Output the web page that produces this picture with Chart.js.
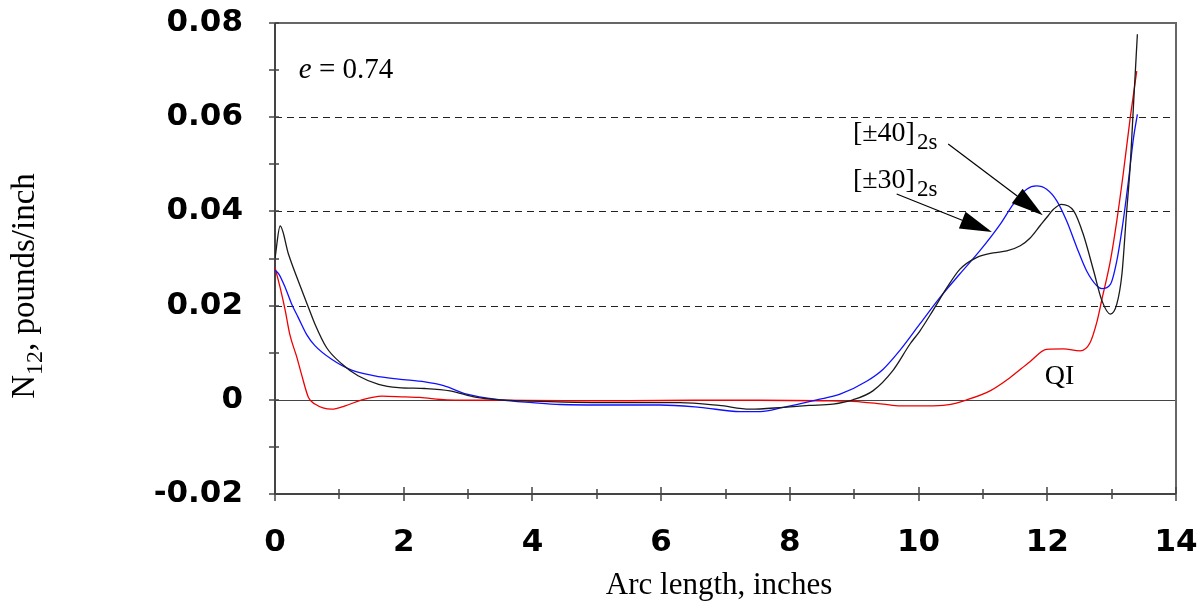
<!DOCTYPE html>
<html>
<head>
<meta charset="utf-8">
<script src="https://cdn.jsdelivr.net/npm/chart.js@4.4.1/dist/chart.umd.min.js"></script>
<style>
  html, body { margin: 0; padding: 0; background: #fff; }
</style>
</head>
<body>
<canvas id="myChart" width="1201" height="609"></canvas>
<script>
"use strict"

// Werte (Bogenlaenge in inch, N12 in pounds/inch)
const xTicks = [0, 2, 4, 6, 8, 10, 12, 14]
const yTickLabels = ['-0.02', '0', '0.02', '0.04', '0.06', '0.08']

// [±30]2s  (schwarz)
const arc30 = [0, 0.08, 0.21, 0.39, 0.52, 0.62, 0.80, 1.04, 1.29, 1.61, 1.92, 2.33, 2.72, 3.13, 3.5, 4.0, 4.5, 5.05, 5.7, 6.29, 6.9, 7.38, 7.9, 8.3, 8.67, 8.98, 9.29, 9.6, 9.87, 10.02, 10.22, 10.44, 10.64, 10.9, 11.16, 11.37, 11.58, 11.73, 11.89, 11.99, 12.1, 12.22, 12.41, 12.56, 12.72, 12.85, 12.98, 13.08, 13.16, 13.23, 13.29, 13.34, 13.4]
const n30 = [0.030, 0.0369, 0.0309, 0.0242, 0.0196, 0.0161, 0.0111, 0.0076, 0.0051, 0.0033, 0.0026, 0.0024, 0.0019, 0.0005, 0.0, -0.0003, -0.0005, -0.0006, -0.0006, -0.0006, -0.0012, -0.002, -0.0016, -0.0012, -0.0009, 0.0, 0.0019, 0.0062, 0.0119, 0.0146, 0.0189, 0.0238, 0.0277, 0.0302, 0.0312, 0.0316, 0.0327, 0.0343, 0.0370, 0.0387, 0.0405, 0.0415, 0.0401, 0.0351, 0.0274, 0.021, 0.0182, 0.0203, 0.0267, 0.0394, 0.05, 0.0627, 0.0776]

// [±40]2s  (blau)
const arc40 = [0, 0.06, 0.16, 0.26, 0.36, 0.49, 0.62, 0.88, 1.19, 1.55, 1.92, 2.33, 2.62, 2.98, 3.5, 4.0, 4.43, 5.2, 5.98, 6.6, 7.23, 7.54, 7.9, 8.42, 8.78, 9.2, 9.45, 9.71, 10.02, 10.33, 10.64, 10.95, 11.27, 11.47, 11.68, 11.83, 11.99, 12.15, 12.3, 12.46, 12.61, 12.77, 12.85, 12.98, 13.08, 13.18, 13.26, 13.34, 13.4]
const n40 = [0.0275, 0.0267, 0.0238, 0.0203, 0.0175, 0.0139, 0.0115, 0.0086, 0.0063, 0.0051, 0.0044, 0.0038, 0.0030, 0.0012, 0.0, -0.0006, -0.001, -0.0011, -0.0011, -0.0016, -0.0025, -0.0025, -0.0016, 0.0, 0.0012, 0.0040, 0.0065, 0.0105, 0.0161, 0.0217, 0.0267, 0.0316, 0.0373, 0.0415, 0.0447, 0.0454, 0.0447, 0.0422, 0.038, 0.0323, 0.0274, 0.0242, 0.0236, 0.0245, 0.0295, 0.038, 0.0464, 0.0556, 0.0606]

// QI  (rot)
const arcQI = [0, 0.08, 0.16, 0.23, 0.34, 0.41, 0.52, 0.62, 0.88, 1.09, 1.35, 1.66, 2.02, 2.25, 2.67, 3.5, 4.5, 5.5, 6.5, 7.5, 8.5, 8.93, 9.2, 9.45, 9.71, 10.13, 10.44, 10.75, 11.11, 11.42, 11.73, 11.99, 12.25, 12.51, 12.66, 12.77, 12.85, 12.98, 13.08, 13.18, 13.29, 13.39]
const nQI = [0.0281, 0.0238, 0.0189, 0.0139, 0.009, 0.0055, 0.0005, -0.0009, -0.002, -0.0013, 0.0, 0.0008, 0.0006, 0.0005, 0.0, -0.0001, -0.0002, -0.0002, -0.0001, -0.0001, -0.0002, -0.0003, -0.0006, -0.0009, -0.0013, -0.0013, -0.0011, 0.0, 0.0019, 0.0047, 0.0081, 0.0107, 0.0108, 0.0104, 0.012, 0.0165, 0.0214, 0.0295, 0.038, 0.048, 0.060, 0.0698]

// Beschriftungen im Diagramm (Ankerpunkte in Datenkoordinaten)
const notes = {
    ecc: { x: 0.37, y: 0.0683, text: '0.74' },
    lab40: { x: 8.98, y: 0.0549, text: '[±40]', sub: '2s' },
    lab30: { x: 8.98, y: 0.0450, text: '[±30]', sub: '2s' },
    qi: { x: 11.96, y: 0.0034, text: 'QI' },
    arrow40: { x1: 10.46, y1: 0.0543, x2: 11.93, y2: 0.0392 },
    arrow30: { x1: 9.66, y1: 0.0437, x2: 11.14, y2: 0.0356 }
}

function toPoints(xs, ys) {
    return xs.map((x, i) => ({ x: x, y: ys[i] }))
}

function subText(ctx, x, y, main, sub, size, subSize, drop) {
    ctx.font = size + 'px "Liberation Serif", "Times New Roman", serif'
    ctx.fillText(main, x, y)
    const w = ctx.measureText(main).width
    ctx.font = subSize + 'px "Liberation Serif", "Times New Roman", serif'
    ctx.fillText(sub, x + w + 2, y + drop)
}

function arrow(ctx, x1, y1, x2, y2) {
    const ang = Math.atan2(y2 - y1, x2 - x1)
    const len = 32, half = 9
    const bx = x2 - len * Math.cos(ang), by = y2 - len * Math.sin(ang)
    ctx.beginPath()
    ctx.moveTo(x1, y1)
    ctx.lineTo(bx, by)
    ctx.stroke()
    ctx.beginPath()
    ctx.moveTo(x2, y2)
    ctx.lineTo(bx + half * Math.sin(ang), by - half * Math.cos(ang))
    ctx.lineTo(bx - half * Math.sin(ang), by + half * Math.cos(ang))
    ctx.closePath()
    ctx.fill()
}

// Rahmen, Gitter und Striche selbst zeichnen
const framePlugin = {
    id: 'framePlugin',
    beforeDatasetsDraw(chart) {
        const { ctx, chartArea: a, scales: { x, y } } = chart
        ctx.save()
        ctx.lineWidth = 1
        ctx.strokeStyle = '#222'
        ctx.setLineDash([7, 5])
        for (const v of [0.02, 0.04, 0.06]) {
            const py = Math.round(y.getPixelForValue(v)) + 0.5
            ctx.beginPath(); ctx.moveTo(a.left, py); ctx.lineTo(a.right, py); ctx.stroke()
        }
        ctx.setLineDash([])
        ctx.strokeStyle = '#444'
        const p0 = Math.round(y.getPixelForValue(0)) + 0.5
        ctx.beginPath(); ctx.moveTo(a.left, p0); ctx.lineTo(a.right, p0); ctx.stroke()

        // Rahmen oben/rechts
        ctx.lineWidth = 2
        ctx.strokeStyle = '#666'
        ctx.beginPath()
        ctx.moveTo(a.left, a.top); ctx.lineTo(a.right, a.top); ctx.lineTo(a.right, a.bottom)
        ctx.stroke()
        // Achsen links/unten
        ctx.strokeStyle = '#444'
        ctx.beginPath()
        ctx.moveTo(a.left, a.top); ctx.lineTo(a.left, a.bottom); ctx.lineTo(a.right, a.bottom)
        ctx.stroke()

        // Striche
        ctx.lineWidth = 1.5
        for (let i = 0; i <= 10; i++) {
            const py = Math.round(y.getPixelForValue(-0.02 + i * 0.01))
            ctx.beginPath(); ctx.moveTo(a.left - 6, py); ctx.lineTo(a.left + 4, py); ctx.stroke()
        }
        for (let i = 0; i <= 14; i++) {
            const px = Math.round(x.getPixelForValue(i))
            const l = i % 2 === 0 ? 7 : 5
            ctx.beginPath(); ctx.moveTo(px, a.bottom - l); ctx.lineTo(px, a.bottom + l); ctx.stroke()
        }
        ctx.restore()
    },
    afterDatasetsDraw(chart) {
        const { ctx, scales: { x, y } } = chart
        ctx.save()
        ctx.fillStyle = '#000'
        ctx.strokeStyle = '#000'
        ctx.textBaseline = 'alphabetic'
        ctx.textAlign = 'left'

        // e = 0.74
        const ex = x.getPixelForValue(notes.ecc.x), ey = y.getPixelForValue(notes.ecc.y)
        ctx.font = 'italic 29px "Liberation Serif", serif'
        ctx.fillText('e', ex, ey)
        let w = ctx.measureText('e').width
        ctx.font = '29px "Liberation Serif", serif'
        ctx.fillText(' = ' + notes.ecc.text, ex + w, ey)

        // Kurvenbeschriftungen
        for (const n of [notes.lab40, notes.lab30]) {
            subText(ctx, x.getPixelForValue(n.x), y.getPixelForValue(n.y), n.text, n.sub, 28, 23, 8)
        }
        ctx.font = '28px "Liberation Serif", serif'
        ctx.fillText(notes.qi.text, x.getPixelForValue(notes.qi.x), y.getPixelForValue(notes.qi.y))

        // Pfeile
        ctx.lineWidth = 1.2
        for (const p of [notes.arrow40, notes.arrow30]) {
            arrow(ctx, x.getPixelForValue(p.x1), y.getPixelForValue(p.y1), x.getPixelForValue(p.x2), y.getPixelForValue(p.y2))
        }

        // Achsentitel
        ctx.textAlign = 'center'
        ctx.font = '31px "Liberation Serif", serif'
        ctx.fillText('Arc length, inches', 719, 594)

        ctx.translate(34, 286)
        ctx.rotate(-Math.PI / 2)
        ctx.textAlign = 'left'
        ctx.font = '33px "Liberation Serif", serif'
        const wN = ctx.measureText('N').width
        const rest = ', pounds/inch'
        const wR = ctx.measureText(rest).width
        ctx.font = '24px "Liberation Serif", serif'
        const wS = ctx.measureText('12').width
        const x0 = -(wN + wS + wR) / 2
        ctx.font = '33px "Liberation Serif", serif'
        ctx.fillText('N', x0, 0)
        ctx.font = '24px "Liberation Serif", serif'
        ctx.fillText('12', x0 + wN, 8)
        ctx.font = '33px "Liberation Serif", serif'
        ctx.fillText(rest, x0 + wN + wS, 0)
        ctx.restore()
    }
}

const tickFont = { family: '"DejaVu Sans", sans-serif', size: 31, weight: 'bold' }

const config = {
    type: 'line',
    data: {
        datasets: [
            { label: '[±30]2s', data: toPoints(arc30, n30), borderColor: '#1a1a1a', borderWidth: 1.3 },
            { label: '[±40]2s', data: toPoints(arc40, n40), borderColor: '#1010ff', borderWidth: 1.3 },
            { label: 'QI', data: toPoints(arcQI, nQI), borderColor: '#ee0000', borderWidth: 1.3 }
        ]
    },
    options: {
        responsive: false,
        animation: false,
        parsing: false,
        layout: { padding: { left: 0, right: 25, top: 23, bottom: 0 } },
        elements: {
            point: { radius: 0 },
            line: { cubicInterpolationMode: 'monotone', fill: false }
        },
        plugins: { legend: { display: false }, tooltip: { enabled: false } },
        scales: {
            x: {
                type: 'linear',
                min: 0, max: 14,
                afterFit: (s) => { s.height = 115; s.paddingLeft = 0; s.paddingRight = 0 },
                afterBuildTicks: (s) => { s.ticks = xTicks.map(v => ({ value: v })) },
                grid: { display: false, drawTicks: false },
                border: { display: false },
                ticks: { font: tickFont, color: '#000', padding: 30, maxRotation: 0, autoSkip: false }
            },
            y: {
                type: 'linear',
                min: -0.02, max: 0.08,
                afterFit: (s) => { s.width = 275; s.paddingTop = 0; s.paddingBottom = 0 },
                afterBuildTicks: (s) => { s.ticks = yTickLabels.map(t => ({ value: parseFloat(t) })) },
                grid: { display: false, drawTicks: false },
                border: { display: false },
                ticks: {
                    font: tickFont, color: '#000', padding: 32,
                    callback: (v, i) => yTickLabels[i]
                }
            }
        }
    },
    plugins: [framePlugin]
}

new Chart(document.getElementById('myChart'), config)
</script>
</body>
</html>
